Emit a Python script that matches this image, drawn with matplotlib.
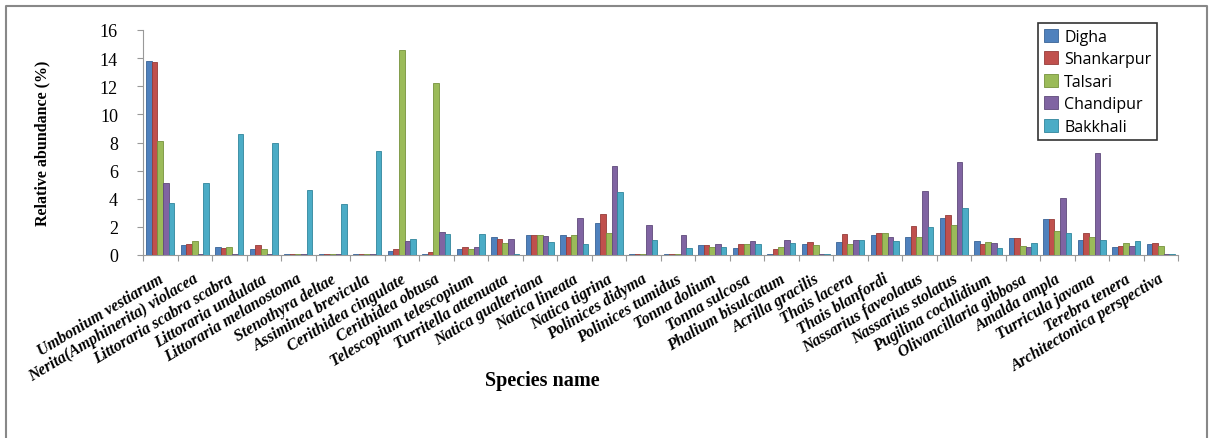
import matplotlib
matplotlib.use('Agg')
from matplotlib import pyplot as plt
from matplotlib.lines import Line2D
import numpy as np

species = ['Umbonium vestiarum', 'Nerita(Amphinerita) violacea', 'Littoraria scabra scabra',
           'Littoraria undulata', 'Littoraria melanostoma', 'Stenothyra deltae',
           'Assiminea brevicula', 'Cerithidea cingulate', 'Cerithidea obtusa',
           'Telescopium telescopium', 'Turritella attenuata', 'Natica gualteriana',
           'Natica lineata', 'Natica tigrina', 'Polinices didyma', 'Polinices tumidus',
           'Tonna dolium', 'Tonna sulcosa', 'Phalium bisulcatum', 'Acrilla gracilis',
           'Thais lacera', 'Thais blanfordi', 'Nassarius faveolatus', 'Nassarius stolatus',
           'Pugilina cochlidium', 'Olivancillaria gibbosa', 'Amalda ampla',
           'Turricula javana', 'Terebra tenera', 'Architectonica perspectiva']

digha = [13.8, 0.7, 0.6, 0.45, 0.05, 0.05, 0.05, 0.3, 0.1, 0.4, 1.3, 1.4, 1.45, 2.25, 0.05,
         0.05, 0.7, 0.5, 0.05, 0.8, 0.95, 1.45, 1.3, 2.6, 1.0, 1.2, 2.55, 1.05, 0.55, 0.8]
shankarpur = [13.7, 0.8, 0.5, 0.7, 0.05, 0.05, 0.05, 0.4, 0.2, 0.55, 1.15, 1.45, 1.3, 2.95, 0.05,
              0.05, 0.7, 0.75, 0.4, 0.95, 1.5, 1.55, 2.05, 2.85, 0.8, 1.2, 2.55, 1.6, 0.65, 0.85]
talsari = [8.1, 1.0, 0.55, 0.45, 0.05, 0.05, 0.05, 14.6, 12.2, 0.4, 0.85, 1.45, 1.45, 1.6, 0.05,
           0.05, 0.55, 0.75, 0.6, 0.7, 0.8, 1.55, 1.3, 2.15, 0.9, 0.65, 1.7, 1.3, 0.85, 0.65]
chandipur = [5.1, 0.05, 0.05, 0.05, 0.05, 0.05, 0.05, 1.0, 1.65, 0.55, 1.15, 1.35, 2.6, 6.3, 2.1,
             1.45, 0.75, 1.0, 1.1, 0.05, 1.05, 1.3, 4.55, 6.6, 0.85, 0.55, 4.05, 7.25, 0.65, 0.05]
bakkhali = [3.7, 5.1, 8.6, 7.95, 4.65, 3.6, 7.4, 1.15, 1.5, 1.5, 0.05, 0.9, 0.75, 4.5, 1.05,
            0.5, 0.6, 0.8, 0.85, 0.05, 1.05, 1.0, 2.0, 3.35, 0.5, 0.85, 1.6, 1.05, 1.0, 0.05]

sites = ['Digha', 'Shankarpur', 'Talsari', 'Chandipur', 'Bakkhali']
series = [digha, shankarpur, talsari, chandipur, bakkhali]
colors = ['#4F81BD', '#C0504D', '#9BBB59', '#8064A2', '#4BACC6']
edges = ['#3A6496', '#963C3A', '#76923C', '#5F4A7B', '#31859C']

fig = plt.figure(figsize=(12.14, 4.39), dpi=100)
ax = fig.add_axes([143/1214, 1 - 256/439, (1178-143)/1214, 225/439])

x = np.arange(len(species))
w = 0.16
for i in range(len(series)):
    ax.bar(x + (i - 2) * w, series[i], w, color=colors[i], edgecolor=edges[i],
           linewidth=0.6, label=sites[i], zorder=3)

ax.set_xlim(-0.5, len(species) - 0.5)
ax.set_ylim(0, 16)
ax.set_yticks(np.arange(0, 17, 2))
ax.set_yticklabels([str(v) for v in range(0, 17, 2)], fontfamily='Liberation Serif', fontsize=13)

# group boundary ticks on the x axis
ax.set_xticks(np.arange(-0.5, len(species), 1.0))
ax.set_xticklabels([])
ax.tick_params(axis='x', length=4, color='#999999', direction='out')
ax.tick_params(axis='y', length=4, color='#999999', direction='out', pad=14)
for i, name in enumerate(species):
    ax.text(i - 0.05, -1.1, name, rotation=31, ha='right', va='top',
            rotation_mode='anchor', fontfamily='Liberation Serif', fontweight='bold',
            fontstyle='italic', fontsize=11.5)

for s in ['top', 'right']:
    ax.spines[s].set_visible(False)
ax.spines['left'].set_color('#999999')
ax.spines['bottom'].set_color('#999999')

ax.set_ylabel('Relative abundance (%)', fontfamily='Liberation Serif', fontweight='bold',
              fontsize=11.5)
ax.yaxis.set_label_coords((50 - 143) / 1035, 0.5)
fig.text(542/1214, 1 - 381/439, 'Species name', ha='center', va='center',
         fontfamily='Liberation Serif', fontweight='bold', fontsize=14.5)

leg = ax.legend(loc='upper left', bbox_to_anchor=((1038-143)/1035, 1 + 7/225),
                borderaxespad=0, frameon=True, fancybox=False, handlelength=0.9,
                handleheight=0.9, handletextpad=0.4, labelspacing=0.4, borderpad=0.35,
                prop={'family': 'Open Sans', 'size': 11.5})
leg.get_frame().set_edgecolor('black')
leg.get_frame().set_linewidth(1.2)

# outer chart border
fig.add_artist(Line2D([6/1214, 6/1214, 1207/1214, 1207/1214], [0, 1 - 7/439, 1 - 7/439, 0],
                      transform=fig.transFigure, color='#888888', linewidth=1.5))

plt.savefig('out.png', dpi=100)
